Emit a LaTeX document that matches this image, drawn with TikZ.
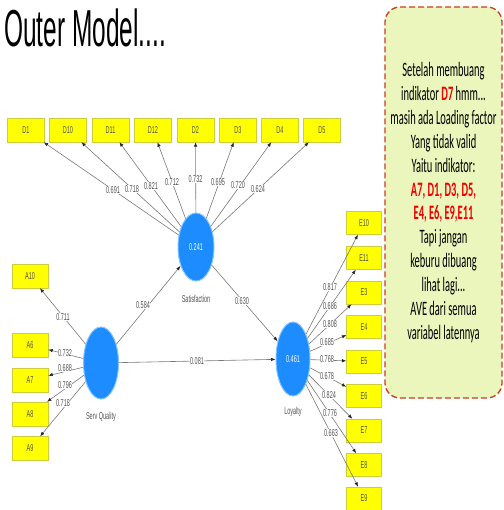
\documentclass[tikz,border=0pt]{standalone}
\usepackage{fontspec}
\setmainfont{Liberation Sans}
\newfontfamily\titlefont{Liberation Sans}[FakeStretch=0.47]
\newfontfamily\callfont{Carlito}[FakeStretch=0.51]
\newfontfamily\plsfont{Liberation Sans}[FakeStretch=0.55]
\usetikzlibrary{shapes.geometric,arrows.meta}
\definecolor{indfill}{RGB}{255,255,0}
\definecolor{inddraw}{RGB}{205,205,60}
\definecolor{lvfill}{RGB}{28,140,255}
\definecolor{lvdraw}{RGB}{130,195,255}
\definecolor{linegrey}{RGB}{120,120,120}
\definecolor{lblgrey}{RGB}{80,80,80}
\definecolor{callfill}{RGB}{234,246,188}
\definecolor{calldraw}{RGB}{200,62,25}
\definecolor{callred}{RGB}{240,0,0}
\tikzset{
  indbox/.style={rectangle, fill=indfill, draw=inddraw, line width=0.4pt,
    minimum width=37pt, minimum height=24pt, inner sep=0pt,
    font=\plsfont\fontsize{10}{10}\selectfont, text=lblgrey},
  latent/.style={ellipse, fill=lvfill, draw=lvdraw, line width=1pt,
    minimum width=35pt, minimum height=70pt, inner sep=0pt,
    font=\plsfont\fontsize{10}{10}\selectfont, text=white},
  lbl/.style={fill=white, inner sep=0.6pt, text=lblgrey,
    font=\plsfont\fontsize{10}{10}\selectfont},
  lvname/.style={inner sep=0pt, text=lblgrey, font=\plsfont\fontsize{10}{10}\selectfont},
  arr/.style={draw=linegrey, line width=0.6pt,
    -{Latex[length=4.5pt,width=3.5pt,color=black!85]}},
}
\begin{document}
\begin{tikzpicture}[x=1pt,y=-1pt]
\useasboundingbox (0,0) rectangle (503,510);

% title
\node[anchor=base west, inner sep=0pt, text=black,
  font=\titlefont\fontsize{52}{52}\selectfont] (title) at (4,47) {Outer Model....};

% callout
\node[rectangle, rounded corners=15pt, fill=callfill, draw=calldraw,
  line width=1.3pt, dash pattern=on 6pt off 3pt,
  minimum width=117pt, minimum height=391pt, inner sep=0pt,
  align=center, font=\callfont\fontsize{20.5}{23.9}\selectfont, text=black]
  (call) at (443.5,202.5)
  {Setelah membuang\\
   indikator \textcolor{callred}{\bfseries D7} hmm...\\
   masih ada Loading factor\\
   Yang tidak valid\\
   Yaitu indikator:\\
   \textcolor{callred}{\bfseries A7, D1, D3, D5,}\\
   \textcolor{callred}{\bfseries E4, E6, E9,E11}\\
   Tapi jangan\\
   keburu dibuang\\
   lihat lagi...\\
   AVE dari semua\\
   variabel latennya};

% latent variables
\node[latent, minimum width=36pt, minimum height=68pt] (sat) at (196,247) {0.241};
\node[latent, minimum width=35pt, minimum height=72pt] (sq) at (101,363) {};
\node[latent, minimum width=34pt, minimum height=74pt] (loy) at (293,359) {0.461};
\node[lvname] (satn) at (196,299) {Satisfaction};
\node[lvname] (sqn) at (101,417) {Serv Quality};
\node[lvname] (loyn) at (293,412) {Loyalty};

% D indicators
\node[indbox] (D1) at (26,130) {D1};
\node[indbox] (D10) at (68,130) {D10};
\node[indbox] (D11) at (110.5,130) {D11};
\node[indbox] (D12) at (153,130) {D12};
\node[indbox] (D2) at (195.5,130) {D2};
\node[indbox] (D3) at (238,130) {D3};
\node[indbox] (D4) at (280,130) {D4};
\node[indbox] (D5) at (322,130) {D5};

% A indicators
\node[indbox, minimum width=36pt] (A10) at (30,276) {A10};
\node[indbox, minimum width=36pt] (A6) at (30,345) {A6};
\node[indbox, minimum width=36pt] (A7) at (30,380) {A7};
\node[indbox, minimum width=36pt] (A8) at (30,414) {A8};
\node[indbox, minimum width=36pt] (A9) at (30,448.5) {A9};

% E indicators
\node[indbox, minimum width=35pt, minimum height=23pt] (E10) at (364,223) {E10};
\node[indbox, minimum width=35pt, minimum height=23pt] (E11) at (364,258) {E11};
\node[indbox, minimum width=35pt, minimum height=23pt] (E3) at (364,292.5) {E3};
\node[indbox, minimum width=35pt, minimum height=23pt] (E4) at (364,327) {E4};
\node[indbox, minimum width=35pt, minimum height=23pt] (E5) at (364,361.5) {E5};
\node[indbox, minimum width=35pt, minimum height=23pt] (E6) at (364,396) {E6};
\node[indbox, minimum width=35pt, minimum height=23pt] (E7) at (364,430.5) {E7};
\node[indbox, minimum width=35pt, minimum height=23pt] (E8) at (364,465) {E8};
\node[indbox, minimum width=35pt, minimum height=23pt] (E9) at (364,498.5) {E9};

% connectors
\foreach \d in {D1,D10,D11,D12,D2,D3,D4,D5} \draw[arr] (sat) -- (\d);
\foreach \a in {A10,A6,A7,A8,A9} \draw[arr] (sq) -- (\a);
\foreach \e in {E10,E11,E3,E4,E5,E6,E7,E8,E9} \draw[arr] (loy) -- (\e);
\draw[arr] (sq) -- (sat);
\draw[arr] (sq) -- (loy);
\draw[arr] (sat) -- (loy);

% loadings: Satisfaction
\node[lbl] (lD1) at (113,190) {0.691};
\node[lbl] (lD10) at (132,189) {0.718};
\node[lbl] (lD11) at (151,186) {0.821};
\node[lbl] (lD12) at (172,182) {0.712};
\node[lbl] (lD2) at (195.5,179) {0.732};
\node[lbl] (lD3) at (218,182) {0.695};
\node[lbl] (lD4) at (238,185) {0.720};
\node[lbl] (lD5) at (258,189) {0.624};

% loadings: Serv Quality
\node[lbl] (lA10) at (63,317) {0.711};
\node[lbl] (lA6) at (65,353) {0.732};
\node[lbl] (lA7) at (65,368) {0.688};
\node[lbl] (lA8) at (65,385) {0.796};
\node[lbl] (lA9) at (63,403) {0.718};

% loadings: Loyalty
\node[lbl] (lE10) at (330,287) {0.817};
\node[lbl] (lE11) at (330,306) {0.686};
\node[lbl] (lE3) at (330,324) {0.808};
\node[lbl] (lE4) at (327,342) {0.685};
\node[lbl] (lE5) at (327,359) {0.768};
\node[lbl] (lE6) at (327,376) {0.678};
\node[lbl] (lE7) at (329,395) {0.824};
\node[lbl] (lE8) at (330,413) {0.776};
\node[lbl] (lE9) at (331,433) {0.663};

% path coefficients
\node[lbl] (p1) at (143,305) {0.584};
\node[lbl] (p2) at (197,361) {0.081};
\node[lbl] (p3) at (242,301) {0.630};
\end{tikzpicture}
\end{document}
